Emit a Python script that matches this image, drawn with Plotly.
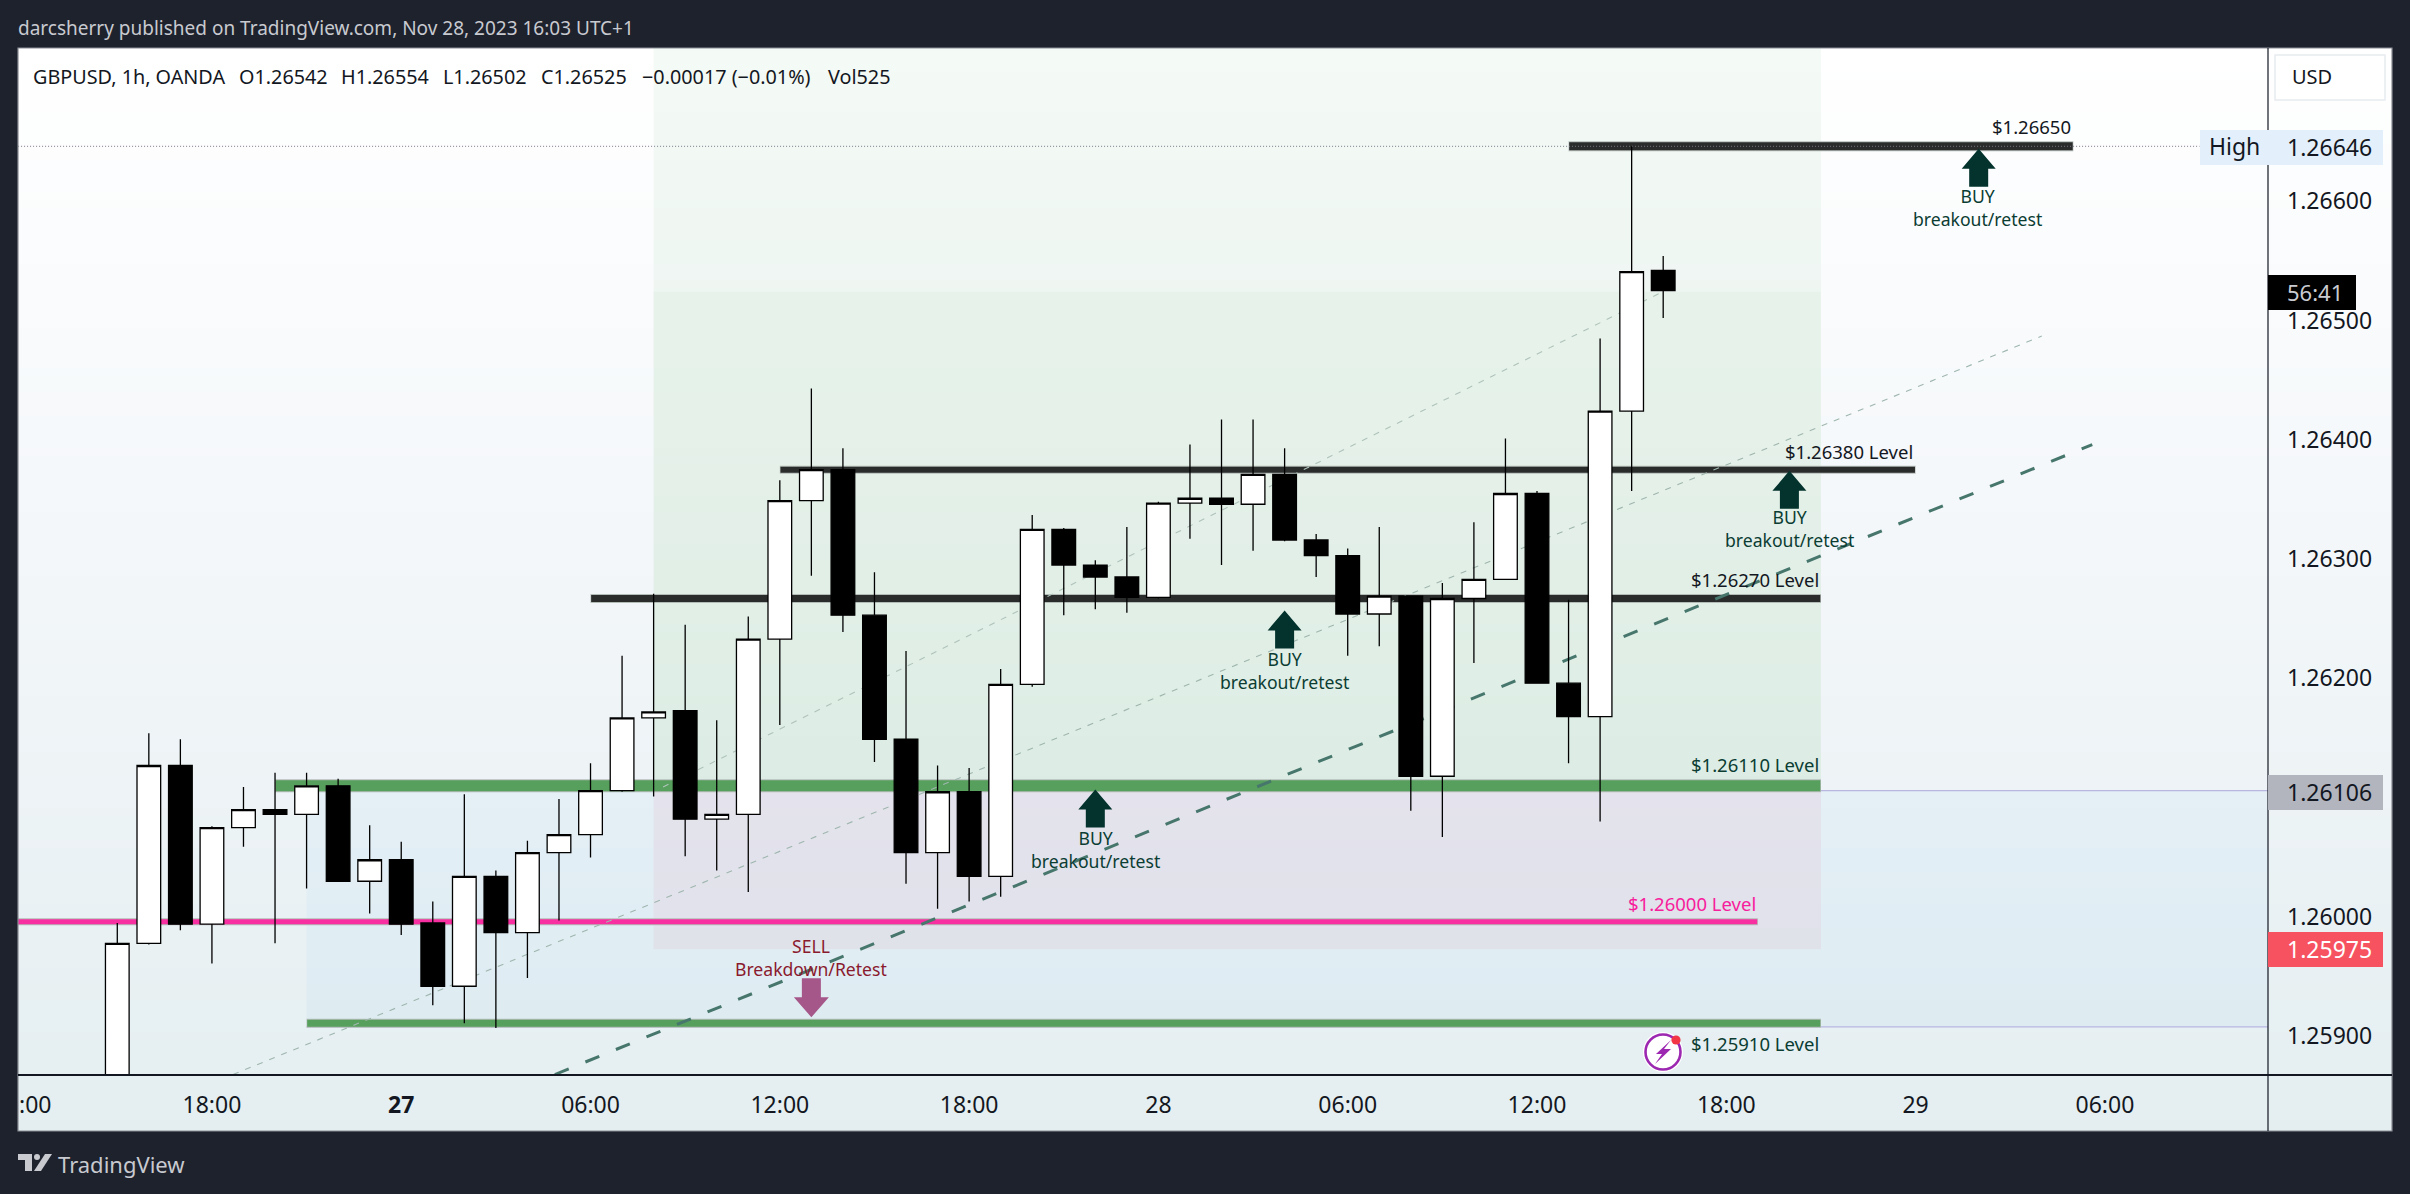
import plotly.graph_objects as go

# ---------- data (prices) ----------
bars = list(range(50))
opens = [1.25850,1.25978,1.26127,1.25994,1.26075,1.26090,1.26086,1.26110,1.26030,1.26048,
         1.25995,1.25942,1.26034,1.25987,1.26054,1.26069,1.26106,1.26167,1.26173,1.26082,
         1.26086,1.26233,1.26349,1.26375,1.26253,1.26149,1.26054,1.26105,1.26034,1.26195,
         1.26325,1.26295,1.26285,1.26268,1.26347,1.26351,1.26346,1.26371,1.26316,1.26303,
         1.26254,1.26269,1.26118,1.26267,1.26283,1.26355,1.26196,1.26168,1.26424,1.26542]
highs = [1.25995,1.26154,1.26149,1.26076,1.26109,1.26121,1.26121,1.26116,1.26077,1.26063,
         1.26013,1.26103,1.26039,1.26064,1.26099,1.26129,1.26219,1.26271,1.26245,1.26165,
         1.26252,1.26366,1.26443,1.26393,1.26289,1.26223,1.26127,1.26125,1.26208,1.26337,
         1.26326,1.26299,1.26327,1.26348,1.26396,1.26417,1.26417,1.26393,1.26321,1.26309,
         1.26327,1.26269,1.26280,1.26331,1.26401,1.26357,1.26266,1.26485,1.26646,1.26554]
lows  = [1.25845,1.25977,1.25989,1.25961,1.26059,1.25978,1.26024,1.26030,1.26003,1.25985,
         1.25926,1.25911,1.25907,1.25949,1.25997,1.26050,1.26105,1.26101,1.26051,1.26039,
         1.26021,1.26161,1.26286,1.26239,1.26130,1.26028,1.26007,1.26013,1.26017,1.26193,
         1.26253,1.26258,1.26255,1.26267,1.26317,1.26295,1.26307,1.26315,1.26285,1.26219,
         1.26227,1.26089,1.26067,1.26213,1.26283,1.26196,1.26129,1.26080,1.26357,1.26502]
closes= [1.25978,1.26127,1.25994,1.26075,1.26090,1.26086,1.26110,1.26030,1.26048,1.25994,
         1.25942,1.26034,1.25987,1.26054,1.26069,1.26106,1.26167,1.26172,1.26082,1.26086,
         1.26233,1.26349,1.26375,1.26253,1.26149,1.26054,1.26105,1.26034,1.26195,1.26325,
         1.26295,1.26285,1.26268,1.26347,1.26351,1.26346,1.26371,1.26316,1.26303,1.26254,
         1.26269,1.26118,1.26267,1.26283,1.26355,1.26196,1.26168,1.26424,1.26541,1.26525]

x_tick_vals = [-2.6,3,9,15,21,27,33,39,45,51,57,63]
x_tick_text = [":00","18:00","<b>27</b>","06:00","12:00","18:00","28","06:00","12:00","18:00","29","06:00"]
y_tick_vals = [1.259,1.260,1.261,1.262,1.263,1.264,1.265,1.266]

level_prices = [1.26646,1.26375,1.26267,1.26110,1.25996,1.25911]
level_start  = [46,21,15,5,-4,6]
level_end    = [62,57,54,54,52,54]
level_colors = ["#2a2c2b","#2a2c2b","#2a2c2b","#579f5c","#f72fa0","#579f5c"]
level_core   = [8,6,7,11,5,7]
level_labels = ["$1.26650","$1.26380 Level","$1.26270 Level","$1.26110 Level","$1.26000 Level","$1.25910 Level"]
level_label_colors = ["#131722","#131722","#131722","#0b3d33","#f7209c","#0b3d33"]

buy_bars   = [59,53,37,31]
buy_prices = [1.26644,1.26374,1.26257,1.26107]
sell_bars  = [22]
sell_prices= [1.25916]

thick_trend_x = [13.87,62.6]
thick_trend_y = [1.25868,1.26396]
thin_trend1_x = [3.67,61.0]
thin_trend1_y = [1.25868,1.26487]
thin_trend2_x = [17.3,48.9]
thin_trend2_y = [1.26109,1.26523]

last_high, last_mark, last_price = 1.26646, 1.26106, 1.25975

X0, X1, Y0, Y1 = 18, 2268, 48, 1075
def px(x): return (x - X0) / (X1 - X0)
def py(y): return 1 - (y - Y0) / (Y1 - Y0)

# ---------- shapes ----------
shapes = []
def paper_rect(x0, y0, x1, y1, fill, line=None, layer="above", lw=1):
    shapes.append(dict(type="rect", xref="paper", yref="paper", x0=px(x0), x1=px(x1), y0=py(y0), y1=py(y1),
                       fillcolor=fill, line=dict(color=line or fill, width=lw if line else 0), layer=layer))

# panel background gradient (overpainted strips, no seams)
stops = [(48,(255,255,255)),(600,(242,246,249)),(1131,(228,238,240))]
def grad(y):
    for (a,ca),(b,cb) in zip(stops,stops[1:]):
        if y <= b:
            t = (y-a)/(b-a)
            return "rgb(%d,%d,%d)" % tuple(round(u+(v-u)*t) for u,v in zip(ca,cb))
    return "rgb(228,238,240)"
for y in range(48,1131,8):
    paper_rect(18,y,2392,1131,grad(y),layer="below")

def zone(x0,x1,p0,p1,fill):
    shapes.append(dict(type="rect",xref="x",yref="y",x0=x0,x1=x1,y0=p0,y1=p1,fillcolor=fill,line=dict(width=0),layer="below"))
zone(6,69,1.25908,1.26106,"rgba(33,150,243,0.04)")
zone(17,54,1.25973,1.26110,"rgba(233,30,99,0.055)")
zone(17,54,1.26110,1.26524,"rgba(76,175,80,0.10)")
zone(17,54,1.26524,1.26730,"rgba(76,175,80,0.06)")

for p in (1.26106,1.25908):
    shapes.append(dict(type="line",xref="x",yref="y",x0=6,x1=69,y0=p,y1=p,line=dict(color="#b9b6e2",width=1.2),layer="below"))

for p,a,b,c,w in zip(level_prices,level_start,level_end,level_colors,level_core):
    shapes.append(dict(type="line",xref="x",yref="y",x0=a,x1=b,y0=p,y1=p,line=dict(color="#b4bcb8",width=w+2),layer="below"))
    shapes.append(dict(type="line",xref="x",yref="y",x0=a+0.02,x1=b-0.02,y0=p,y1=p,line=dict(color=c,width=w),layer="below"))

shapes.append(dict(type="line",xref="x",yref="y",x0=-4,x1=66,y0=last_high,y1=last_high,
                   line=dict(color="#787b86",width=1,dash="1px,2px"),layer="below"))

for xs,ys,col,w,d in [(thin_trend1_x,thin_trend1_y,"#9fb6ae",1.1,"6px,7px"),
                      (thin_trend2_x,thin_trend2_y,"#afc3bb",1.1,"6px,7px"),
                      (thick_trend_x,thick_trend_y,"#47776c",3,"15px,18px")]:
    shapes.append(dict(type="line",xref="x",yref="y",x0=xs[0],x1=xs[1],y0=ys[0],y1=ys[1],
                       line=dict(color=col,width=w,dash=d),layer="below"))

BUY_PATH  = "M0,0 L17,-20 L9.5,-20 L9.5,-38 L-9.5,-38 L-9.5,-20 L-17,-20 Z"
SELL_PATH = "M0,0 L17.5,20 L9.5,20 L9.5,39 L-9.5,39 L-9.5,20 L-17.5,20 Z"
for b,p in zip(buy_bars,buy_prices):
    shapes.append(dict(type="path",xref="x",yref="y",xsizemode="pixel",ysizemode="pixel",xanchor=b,yanchor=p,
                       path=BUY_PATH,fillcolor="#03332c",line=dict(width=0),layer="below"))
for b,p in zip(sell_bars,sell_prices):
    shapes.append(dict(type="path",xref="x",yref="y",xsizemode="pixel",ysizemode="pixel",xanchor=b,yanchor=p,
                       path=SELL_PATH,fillcolor="#a6578a",line=dict(width=0),layer="below"))

# axes lines beyond the plot area, panel frame
shapes.append(dict(type="rect",xref="paper",yref="paper",x0=px(18),x1=px(2392),y0=py(48),y1=py(1131),
                   line=dict(color="#8a8d94",width=1.2),fillcolor="rgba(0,0,0,0)",layer="above"))
shapes.append(dict(type="line",xref="paper",yref="paper",x0=px(2268),x1=px(2268),y0=py(48),y1=py(1131),line=dict(color="#131722",width=1.2)))
shapes.append(dict(type="line",xref="paper",yref="paper",x0=px(18),x1=px(2392),y0=py(1075),y1=py(1075),line=dict(color="#131722",width=1.8)))

# price badges
paper_rect(2200,130,2383,165,"#e3effa")
paper_rect(2268,275,2356,310,"#000000")
paper_rect(2268,775,2383,810,"#b2b5be")
paper_rect(2268,932,2383,967,"#f7525f")
shapes.append(dict(type="rect",xref="paper",yref="paper",x0=px(2275),x1=px(2385),y0=py(55),y1=py(100),
                   fillcolor="#ffffff",line=dict(color="#e8ebf0",width=1.5),layer="above"))

# lightning badge
def circle(cx,cy,r,fill,line=None,w=0):
    shapes.append(dict(type="circle",xref="paper",yref="paper",x0=px(cx-r),x1=px(cx+r),y0=py(cy-r),y1=py(cy+r),
                       fillcolor=fill,line=dict(color=line or fill,width=w),layer="above"))
def poly(pts,fill):
    d = "M" + " L".join("%.5f,%.5f" % (px(a),py(b)) for a,b in pts) + " Z"
    shapes.append(dict(type="path",xref="paper",yref="paper",path=d,fillcolor=fill,line=dict(width=0),layer="above"))
circle(1663,1052,20,"#ffffff")
circle(1663,1052,17.5,"#ffffff","#9c27b0",2.6)
poly([(1671,1040),(1656,1054),(1662,1054),(1655,1064),(1671,1049),(1664,1049)],"#9c27b0")
circle(1676,1040,4.6,"#f23645")

# TradingView logo
poly([(18,1154),(32,1154),(32,1171),(25,1171),(25,1160),(18,1160)],"#c8cad0")
circle(37,1157,3,"#c8cad0")
poly([(45,1154),(52,1154),(41,1171),(34,1171)],"#c8cad0")

# ---------- texts ----------
FONT = "Noto Sans"
ann = []
def text(x,y,s,size,color,anchor="left"):
    ann.append(dict(xref="paper",yref="paper",x=px(x),y=py(y),text=s,showarrow=False,xanchor=anchor,yanchor="middle",
                    font=dict(family=FONT,size=size,color=color),borderpad=0))

text(17,28,"darcsherry published on TradingView.com, Nov 28, 2023 16:03 UTC+1",19,"#c8cad0")
legend_parts = ["GBPUSD, 1h, OANDA","O1.26542","H1.26554","L1.26502","C1.26525","−0.00017 (−0.01%)","Vol525"]
legend_x = [32,238,340,442,540,641,827]
for s,x in zip(legend_parts,legend_x):
    text(x,76,s,19.8,"#131722")
text(57,1164,"TradingView",22,"#c8cad0")
text(2291,77,"USD",20,"#131722")

label_right = [2072,1914,1820,1820,1757,1820]
label_y = [127,451,579,764,903,1043]
for s,c,r,y in zip(level_labels,level_label_colors,label_right,label_y):
    text(r,y,s,18.5,c,"right")

buy_text_x = [1978,1789,1284,1095]
buy_text_y = [207,528.5,670,849]
for x,y in zip(buy_text_x,buy_text_y):
    text(x,y,"BUY<br>breakout/retest",17.6,"#0b3d33","center")
text(811,957.5,"SELL<br>Breakdown/Retest",17.6,"#8a1a2e","center")

text(2234,146,"High",23,"#131722","center")
text(2329,147,"%.5f" % last_high,23,"#131722","center")
text(2315,292,"56:41",22,"#c9cbd1","center")
text(2329,792,"%.5f" % last_mark,23,"#131722","center")
text(2329,949,"%.5f" % last_price,23,"#ffffff","center")

# ---------- figure ----------
fig = go.Figure(go.Candlestick(
    x=bars, open=opens, high=highs, low=lows, close=closes,
    increasing=dict(line=dict(color="#000000",width=1.3),fillcolor="#ffffff"),
    decreasing=dict(line=dict(color="#000000",width=1.3),fillcolor="#000000"),
    whiskerwidth=0, showlegend=False, hoverinfo="skip"))

fig.update_layout(
    width=2410, height=1194, autosize=False,
    margin=dict(l=X0,r=2410-X1,t=Y0,b=1194-Y1,pad=0),
    paper_bgcolor="#1e222d", plot_bgcolor="rgba(0,0,0,0)",
    boxgap=0.25, boxgroupgap=0, showlegend=False,
    font=dict(family=FONT,color="#131722"),
    shapes=shapes, annotations=ann,
    xaxis=dict(range=[-3.147,68.17],rangeslider=dict(visible=False),showgrid=False,zeroline=False,
               tickmode="array",tickvals=x_tick_vals,ticktext=x_tick_text,ticks="",ticklen=0,
               tickfont=dict(size=23,color="#131722",family=FONT),showline=False,ticklabelstandoff=14,tickangle=0),
    yaxis=dict(range=[1.258676,1.267284],side="right",showgrid=False,zeroline=False,
               tickmode="array",tickvals=y_tick_vals,tickformat=".5f",ticks="",
               tickfont=dict(size=23,color="#131722",family=FONT),showline=False,ticklabelstandoff=18),
)

fig.write_html("out.html",config=dict(displayModeBar=False),
               post_script="document.body.style.margin='0';document.body.style.background='#1e222d';")
